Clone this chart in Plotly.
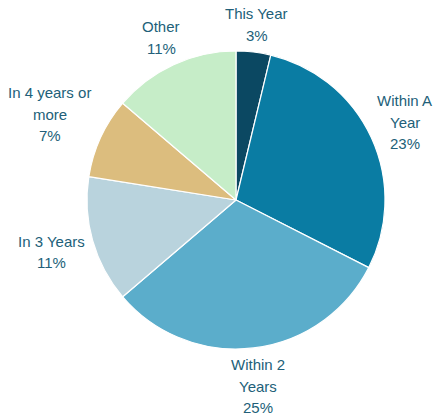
import math
import plotly.graph_objects as go

# Timing of planned purchases
categories = ["This Year", "Within A Year", "Within 2 Years", "In 3 Years",
              "In 4 years or more", "Other"]
label_lines = [["This Year"], ["Within A", "Year"], ["Within 2", "Years"], ["In 3 Years"],
               ["In 4 years or", "more"], ["Other"]]
values = [3, 23, 25, 11, 7, 11]

colors = ["#0b4862", "#0a7ca3", "#5badcb", "#b9d3dd", "#dcbd7e", "#c6edc8"]
label_color = "#225f79"
font_family = "Liberation Sans, Arial, sans-serif"
font_size = 15

W, H = 438, 417
cx, cy, R = 236, 200, 149          # pie centre and radius in pixels
pad = 6                            # gap between rim and label box
char_w, line_h = 7.0, 21.5         # rough text metrics for the label font

dom_x = [(cx - R) / W, (cx + R) / W]
dom_y = [1 - (cy + R) / H, 1 - (cy - R) / H]

fig = go.Figure(go.Pie(
    labels=categories,
    values=values,
    textinfo="none",
    marker=dict(colors=colors, line=dict(color="white", width=1.2)),
    sort=False,
    direction="clockwise",
    rotation=0,
    showlegend=False,
    hoverinfo="label+value",
    domain=dict(x=dom_x, y=dom_y),
))

# Outside labels: placed along each slice's mid angle, pushed clear of the rim,
# one annotation per text line so the line spacing can be controlled
total = sum(values)
cum = 0
annotations = []
for lines, v in zip(label_lines, values):
    mid = (cum + v / 2) / total * 2 * math.pi
    cum += v
    s, c = math.sin(mid), math.cos(mid)
    text_lines = lines + [f"{v}%"]
    half_w = max(len(t) for t in text_lines) * char_w / 2
    half_h = len(text_lines) * line_h / 2
    reach = min(half_w / abs(s) if abs(s) > 1e-6 else 1e9,
                half_h / abs(c) if abs(c) > 1e-6 else 1e9)
    r = R + pad + reach
    px, py = cx + r * s, cy - r * c
    n = len(text_lines)
    for i, t in enumerate(text_lines):
        ly = py + (i - (n - 1) / 2) * line_h
        annotations.append(dict(
            x=px / W, y=1 - ly / H, xref="paper", yref="paper",
            xanchor="center", yanchor="middle", showarrow=False,
            text=t,
            font=dict(family=font_family, size=font_size, color=label_color),
        ))

fig.update_layout(
    width=W, height=H,
    margin=dict(l=0, r=0, t=0, b=0),
    paper_bgcolor="white",
    plot_bgcolor="white",
    annotations=annotations,
)

fig.write_html("out.html")
